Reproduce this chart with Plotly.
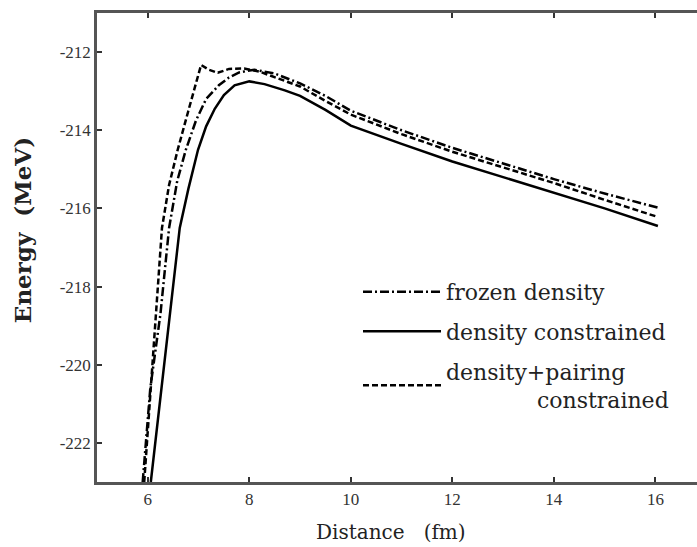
import plotly.graph_objects as go

# frozen density (dash-dot)
frozen_x = [5.9, 6.05, 6.25, 6.42, 6.58, 6.75, 6.95, 7.15, 7.4, 7.6, 7.8, 8.1, 8.5, 9.0, 9.5, 10, 11, 12, 13, 14, 15, 16.05]
frozen_e = [-223.0, -220.6, -218.7, -216.5, -215.3, -214.5, -213.75, -213.2, -212.85, -212.65, -212.52, -212.45, -212.55, -212.8, -213.12, -213.5, -214.0, -214.45, -214.85, -215.25, -215.62, -215.98]

# density constrained (solid)
dens_x = [6.06, 6.25, 6.43, 6.63, 6.8, 6.99, 7.15, 7.32, 7.5, 7.71, 8.0, 8.3, 8.7, 9.0, 9.5, 10, 11, 12, 13, 14, 15, 16.05]
dens_e = [-223.0, -220.8, -218.7, -216.5, -215.5, -214.5, -213.9, -213.45, -213.1, -212.85, -212.75, -212.82, -212.98, -213.12, -213.48, -213.88, -214.35, -214.8, -215.2, -215.6, -216.0, -216.45]

# density+pairing constrained (dashed)
pair_x = [5.93, 6.05, 6.16, 6.28, 6.42, 6.59, 6.8, 6.95, 7.05, 7.2, 7.38, 7.6, 7.9, 8.2, 8.6, 9.0, 9.5, 10, 11, 12, 13, 14, 15, 16.05]
pair_e = [-223.0, -220.8, -218.7, -216.5, -215.4, -214.5, -213.5, -212.8, -212.33, -212.45, -212.53, -212.43, -212.42, -212.5, -212.7, -212.88, -213.25, -213.6, -214.1, -214.55, -214.95, -215.35, -215.78, -216.22]

x_ticks = [6, 8, 10, 12, 14, 16]
y_ticks = [-222, -220, -218, -216, -214, -212]

SERIF = "DejaVu Serif"

fig = go.Figure()
fig.add_trace(go.Scatter(x=frozen_x, y=frozen_e, mode="lines", name="frozen density",
                         legendgroup="a",
                         line=dict(color="black", width=2.5, dash="9px,3px,2px,3px")))
fig.add_trace(go.Scatter(x=dens_x, y=dens_e, mode="lines", name="density constrained",
                         legendgroup="b",
                         line=dict(color="black", width=2.5)))
fig.add_trace(go.Scatter(x=pair_x, y=pair_e, mode="lines",
                         legendgroup="c",
                         name="density+pairing<br>" + "\u00a0" * 13 + "constrained",
                         line=dict(color="black", width=2.5, dash="6px,3px")))

fig.update_layout(
    width=697, height=547,
    margin=dict(l=97, r=0, t=13, b=65),
    paper_bgcolor="white", plot_bgcolor="white",
    showlegend=True,
    legend=dict(x=0.435, y=0.45, xanchor="left", yanchor="top",
                font=dict(family=SERIF, size=22, color="#222"),
                bgcolor="rgba(0,0,0,0)", itemwidth=78, tracegroupgap=8),
    xaxis=dict(range=[5, 16.82], tickvals=x_ticks, ticktext=[str(v) for v in x_ticks],
               ticks="inside", ticklen=5, tickwidth=2, tickcolor="#333",
               showline=True, linewidth=2.5, linecolor="#555", mirror="ticks",
               showgrid=False, zeroline=False,
               tickfont=dict(family="Liberation Serif", size=17, color="#333")),
    yaxis=dict(range=[-223, -211], tickvals=y_ticks, ticktext=[str(v) for v in y_ticks],
               ticks="inside", ticklen=5, tickwidth=2, tickcolor="#333",
               showline=True, linewidth=2.5, linecolor="#555", mirror=False,
               showgrid=False, zeroline=False,
               tickfont=dict(family="Liberation Serif", size=17, color="#333")),
    annotations=[
        dict(text="Distance\u00a0\u00a0\u00a0(fm)", xref="paper", yref="paper", x=0.49, y=-0.077,
             xanchor="center", yanchor="top", showarrow=False,
             font=dict(family=SERIF, size=20, color="#222")),
        dict(text="<b>Energy\u00a0\u00a0(MeV)</b>", xref="paper", yref="paper", x=-0.125, y=0.537,
             xanchor="center", yanchor="middle", showarrow=False, textangle=-90,
             font=dict(family=SERIF, size=23, color="#222")),
    ],
)

fig.write_html("out.html", config={"displayModeBar": False},
               post_script="document.body.style.margin='0';document.body.style.overflow='hidden';")
